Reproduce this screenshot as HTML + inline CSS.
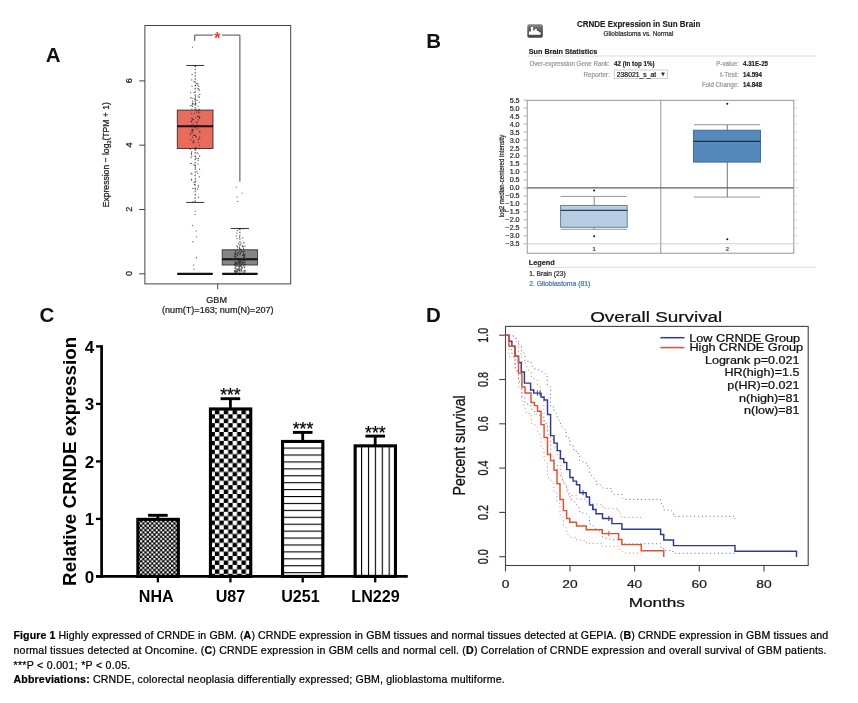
<!DOCTYPE html>
<html lang="en"><head><meta charset="utf-8"><title>Figure 1 Highly expressed of CRNDE in GBM</title>
<style>
html,body{margin:0;padding:0;background:#fff;}
body{width:858px;height:703px;position:relative;overflow:hidden;font-family:"Liberation Sans", sans-serif;will-change:transform;}
svg{position:absolute;left:0;top:0;display:block;}
svg text{font-family:"Liberation Sans", sans-serif;}
.pl{position:absolute;font-weight:bold;font-size:20.5px;line-height:1;color:#111;}
.cap{position:absolute;left:13.5px;white-space:nowrap;font-size:10.6px;line-height:1;color:#000;-webkit-text-stroke:0.22px #000;}
.cap b{font-weight:bold;}
</style></head><body>
<svg width="858" height="703" viewBox="0 0 858 703">
<g id="panelA">
<rect x="144.90" y="25.50" width="145.80" height="258.40" fill="none" stroke="#444" stroke-width="1"/>
<line x1="139.20" y1="273.80" x2="144.90" y2="273.80" stroke="#444" stroke-width="1"/>
<text transform="translate(131.80,273.50) rotate(-90)" font-size="9.2" text-anchor="middle" fill="#222" stroke="#222" stroke-width="0.24">0</text>
<line x1="139.20" y1="209.50" x2="144.90" y2="209.50" stroke="#444" stroke-width="1"/>
<text transform="translate(131.80,209.20) rotate(-90)" font-size="9.2" text-anchor="middle" fill="#222" stroke="#222" stroke-width="0.24">2</text>
<line x1="139.20" y1="145.20" x2="144.90" y2="145.20" stroke="#444" stroke-width="1"/>
<text transform="translate(131.80,144.90) rotate(-90)" font-size="9.2" text-anchor="middle" fill="#222" stroke="#222" stroke-width="0.24">4</text>
<line x1="139.20" y1="80.90" x2="144.90" y2="80.90" stroke="#444" stroke-width="1"/>
<text transform="translate(131.80,80.60) rotate(-90)" font-size="9.2" text-anchor="middle" fill="#222" stroke="#222" stroke-width="0.24">6</text>
<line x1="217.70" y1="283.90" x2="217.70" y2="289.20" stroke="#444" stroke-width="1"/>
<text transform="translate(109.20,154.70) rotate(-90) scale(0.925,1.000)" font-size="9.3" text-anchor="middle" fill="#222" stroke="#222" stroke-width="0.24">Expression &#8722; log<tspan font-size="6" dy="1.6">2</tspan><tspan dy="-1.6">(TPM + 1)</tspan></text>
<text transform="translate(216.60,302.80)" font-size="9.1" text-anchor="middle" fill="#222" stroke="#222" stroke-width="0.24">GBM</text>
<text transform="translate(217.80,313.20)" font-size="9.08" text-anchor="middle" fill="#222" stroke="#222" stroke-width="0.24">(num(T)=163; num(N)=207)</text>
<line x1="195.20" y1="65.47" x2="195.20" y2="110.16" stroke="#333" stroke-width="0.9" stroke-dasharray="1.6 1.6"/>
<line x1="195.20" y1="149.06" x2="195.20" y2="202.43" stroke="#333" stroke-width="0.9" stroke-dasharray="1.6 1.6"/>
<line x1="186.30" y1="65.47" x2="204.20" y2="65.47" stroke="#333" stroke-width="1"/>
<line x1="186.30" y1="202.43" x2="204.20" y2="202.43" stroke="#333" stroke-width="1"/>
<rect x="177.30" y="110.10" width="35.70" height="38.40" fill="#e86b5e" stroke="#3a2a28" stroke-width="0.9"/>
<line x1="177.30" y1="126.30" x2="213.00" y2="126.30" stroke="#111" stroke-width="1.9"/>
<line x1="177.20" y1="273.90" x2="212.80" y2="273.90" stroke="#111" stroke-width="2.2"/>
<line x1="239.90" y1="228.47" x2="239.90" y2="249.69" stroke="#333" stroke-width="0.9" stroke-dasharray="1.6 1.6"/>
<line x1="239.90" y1="264.80" x2="239.90" y2="273.80" stroke="#333" stroke-width="0.9" stroke-dasharray="1.6 1.6"/>
<line x1="230.70" y1="228.47" x2="249.00" y2="228.47" stroke="#3a3a3a" stroke-width="1"/>
<rect x="222.20" y="249.80" width="35.40" height="15.20" fill="#868686" stroke="#333" stroke-width="0.9"/>
<line x1="222.20" y1="259.20" x2="257.60" y2="259.20" stroke="#111" stroke-width="2.1"/>
<line x1="222.20" y1="273.90" x2="257.60" y2="273.90" stroke="#111" stroke-width="2.2"/>
<path d="M194.7,40.8V35.1H213.0M222.1,35.1H239.9V181.7" fill="none" stroke="#4a4a4a" stroke-width="1"/>
<text transform="translate(217.30,43.60)" font-size="17" text-anchor="middle" font-weight="bold" fill="#e8452c">*</text>
<path d="M196.6,136.9h.01M191.1,113.5h.01M191.0,157.5h.01M195.3,135.6h.01M191.1,97.5h.01M191.3,121.5h.01M191.6,180.0h.01M192.5,103.0h.01M195.9,180.8h.01M194.2,182.4h.01M198.6,119.8h.01M193.2,130.5h.01M193.4,119.7h.01M198.2,117.1h.01M196.5,112.1h.01M194.0,92.6h.01M191.0,139.6h.01M192.4,132.4h.01M193.4,142.8h.01M196.0,158.4h.01M198.0,153.8h.01M197.1,121.6h.01M195.4,127.6h.01M198.8,89.2h.01M199.8,132.4h.01M191.5,154.1h.01M191.9,173.9h.01M195.1,103.8h.01M197.7,85.1h.01M195.9,118.1h.01M197.1,110.3h.01M196.1,147.8h.01M198.5,158.7h.01M199.5,145.3h.01M191.0,173.6h.01M197.1,121.8h.01M198.3,187.2h.01M193.1,201.5h.01M190.6,163.3h.01M194.8,99.3h.01M191.0,121.6h.01M197.8,115.9h.01M194.2,113.3h.01M198.8,112.4h.01M195.7,100.0h.01M198.9,112.9h.01M193.1,103.4h.01M194.4,184.4h.01M199.6,169.2h.01M191.8,79.9h.01M192.6,119.2h.01M195.1,109.3h.01M190.4,149.3h.01M194.4,141.8h.01M199.5,156.0h.01M197.0,100.2h.01M196.9,171.3h.01M190.9,133.2h.01M198.8,86.2h.01M198.1,160.5h.01M191.4,153.2h.01M196.5,109.8h.01M192.4,118.6h.01M192.0,124.8h.01M190.4,134.5h.01M191.9,120.7h.01M190.6,105.8h.01M198.8,111.8h.01M192.8,142.2h.01M193.7,140.5h.01M198.5,139.4h.01M199.9,117.3h.01M191.2,163.5h.01M191.4,121.7h.01M198.4,142.3h.01M191.9,109.1h.01M195.5,66.4h.01M191.8,118.3h.01M195.5,136.0h.01M199.8,131.0h.01M192.9,98.3h.01M193.9,164.8h.01M195.5,103.0h.01M197.9,83.6h.01M198.2,139.5h.01M199.9,110.1h.01M198.3,95.9h.01M197.5,173.3h.01M193.8,123.8h.01M190.7,92.6h.01M192.9,104.8h.01M197.0,124.8h.01M199.4,97.1h.01M199.9,138.1h.01M192.5,101.2h.01M192.6,137.2h.01M196.4,122.3h.01M199.0,109.6h.01M196.7,110.3h.01M198.1,158.5h.01M199.1,90.4h.01M197.9,106.3h.01M192.1,129.1h.01M198.0,164.0h.01M199.7,156.3h.01M194.2,81.5h.01M197.4,189.4h.01M192.0,86.2h.01M199.1,116.9h.01M198.1,116.6h.01M199.8,94.4h.01M196.7,83.7h.01M191.7,151.8h.01M190.5,98.0h.01M195.5,85.6h.01M199.4,137.2h.01M198.3,185.7h.01M192.4,104.1h.01M192.7,129.4h.01M196.0,103.7h.01M191.7,131.0h.01M199.1,97.4h.01M196.0,149.6h.01M199.1,102.3h.01M195.2,189.1h.01M195.5,96.5h.01M194.6,135.0h.01M192.2,130.0h.01M192.1,74.4h.01M194.9,127.8h.01M193.5,135.2h.01M195.4,167.6h.01M191.4,179.4h.01M195.8,147.4h.01M197.8,128.9h.01M195.3,104.5h.01M199.2,176.9h.01M194.7,148.6h.01M195.3,156.7h.01M197.1,152.7h.01M195.0,165.2h.01M199.4,118.0h.01M199.4,148.7h.01M192.9,188.4h.01M198.5,197.2h.01M191.7,155.9h.01M191.1,105.3h.01M192.7,106.3h.01M197.9,88.4h.01M199.0,109.0h.01M192.5,47.1h.01M195.3,211.1h.01M195.0,214.3h.01M192.4,225.6h.01M196.1,231.0h.01M196.5,236.8h.01M192.8,241.7h.01M196.5,257.7h.01M193.7,265.1h.01M194.1,269.0h.01M236.2,236.1h.01M239.1,263.2h.01M236.6,271.9h.01M237.9,262.8h.01M240.5,262.0h.01M239.2,264.2h.01M241.3,249.5h.01M240.0,260.2h.01M243.1,228.8h.01M245.1,246.2h.01M234.8,253.2h.01M243.0,255.1h.01M239.0,262.5h.01M244.4,254.5h.01M236.0,257.2h.01M244.5,271.1h.01M235.4,265.2h.01M235.0,270.6h.01M235.2,267.0h.01M244.7,270.9h.01M235.3,268.0h.01M243.8,265.9h.01M239.4,237.0h.01M238.1,250.6h.01M237.3,254.9h.01M235.8,271.7h.01M235.6,271.4h.01M236.2,263.3h.01M237.8,253.0h.01M237.8,258.8h.01M239.9,260.9h.01M236.4,272.7h.01M237.2,263.1h.01M234.6,259.5h.01M236.5,263.4h.01M239.6,267.1h.01M243.4,255.7h.01M239.2,264.1h.01M238.7,258.5h.01M240.0,260.8h.01M238.2,269.4h.01M243.6,248.6h.01M238.9,266.7h.01M238.2,265.6h.01M235.2,254.9h.01M242.5,259.2h.01M235.3,261.9h.01M243.7,253.5h.01M237.5,247.8h.01M237.1,269.5h.01M236.1,265.6h.01M239.3,247.2h.01M245.1,264.5h.01M240.4,228.8h.01M237.8,260.4h.01M238.3,228.8h.01M239.6,248.3h.01M239.9,261.5h.01M234.5,256.7h.01M237.3,246.3h.01M234.9,250.1h.01M234.6,254.3h.01M240.8,264.9h.01M240.2,252.3h.01M242.3,261.5h.01M244.1,264.3h.01M245.2,270.8h.01M236.0,253.9h.01M234.9,264.7h.01M243.6,265.0h.01M242.5,246.8h.01M243.3,272.2h.01M239.9,251.0h.01M243.6,249.0h.01M240.8,253.1h.01M244.2,260.3h.01M236.9,270.1h.01M234.7,265.1h.01M235.6,253.0h.01M243.6,252.1h.01M241.3,266.4h.01M241.9,268.4h.01M243.2,262.7h.01M242.6,261.5h.01M241.7,267.4h.01M235.1,261.9h.01M235.2,262.4h.01M237.3,271.8h.01M242.5,262.8h.01M245.1,270.7h.01M239.7,270.8h.01M241.9,261.1h.01M241.5,259.6h.01M235.3,265.5h.01M242.6,255.4h.01M237.7,253.3h.01M235.1,263.5h.01M237.4,262.5h.01M241.8,271.3h.01M237.6,265.8h.01M239.5,269.1h.01M235.7,263.1h.01M245.2,254.5h.01M244.7,267.2h.01M243.4,246.7h.01M245.0,259.9h.01M236.7,271.7h.01M244.8,258.2h.01M236.0,257.2h.01M240.2,244.3h.01M243.4,254.7h.01M240.0,263.7h.01M236.9,245.6h.01M244.3,270.4h.01M234.4,264.6h.01M239.8,261.3h.01M235.9,272.5h.01M238.2,258.1h.01M234.4,272.0h.01M242.7,237.9h.01M244.6,258.0h.01M242.2,267.4h.01M238.5,252.5h.01M238.7,268.1h.01M238.4,243.6h.01M239.1,261.7h.01M235.5,262.3h.01M243.6,257.4h.01M237.1,268.6h.01M237.3,230.7h.01M238.5,270.3h.01M244.9,262.2h.01M241.3,243.1h.01M244.4,267.7h.01M242.3,245.7h.01M234.9,267.8h.01M242.7,263.2h.01M241.5,269.4h.01M244.6,262.5h.01M235.8,257.4h.01M237.7,271.9h.01M242.5,259.4h.01M241.6,251.2h.01M237.7,263.1h.01M236.2,271.4h.01M236.2,266.3h.01M239.9,253.9h.01M236.8,233.2h.01M239.3,228.8h.01M235.9,258.9h.01M238.2,259.5h.01M235.4,256.1h.01M240.7,260.9h.01M244.2,251.2h.01M239.0,261.6h.01M240.2,270.2h.01M235.1,270.4h.01M237.5,253.0h.01M239.9,254.7h.01M241.3,263.0h.01M237.4,255.4h.01M237.1,268.7h.01M244.9,272.2h.01M243.7,252.9h.01M234.8,259.6h.01M242.2,263.6h.01M240.9,249.5h.01M234.4,270.9h.01M243.5,260.1h.01M243.8,242.1h.01M235.6,251.5h.01M236.1,263.4h.01M244.8,263.8h.01M242.3,264.4h.01M239.4,270.3h.01M240.5,265.7h.01M237.0,238.7h.01M244.5,255.8h.01M235.8,268.6h.01M237.2,270.7h.01M235.6,270.4h.01M235.2,268.3h.01M238.7,266.4h.01M236.9,264.3h.01M237.7,263.2h.01M239.5,262.7h.01M244.1,242.8h.01M239.6,266.5h.01M245.0,260.6h.01M242.2,251.5h.01M239.9,262.6h.01M241.8,258.9h.01M241.7,270.7h.01M244.6,256.6h.01M238.1,261.1h.01M236.3,187.0h.01M242.0,193.1h.01M237.0,196.8h.01M237.7,201.6h.01" stroke="#222" stroke-opacity=".78" stroke-width="1.25" stroke-linecap="round" fill="none"/>
</g>
<g id="panelB">
<defs><linearGradient id="icg" x1="0" y1="0" x2="0" y2="1"><stop offset="0" stop-color="#8a8a8a"/><stop offset="0.45" stop-color="#5c5c5c"/><stop offset="1" stop-color="#444"/></linearGradient></defs>
<rect x="527.30" y="24.20" width="15.60" height="13.60" fill="url(#icg)" stroke="none" stroke-width="1" rx="1.8"/>
<path d="M528.9,34.8v-3.4h2.1v-4.3h2.1v3.3h1.8v-1.5h1.9v2h1.9v1.4h1.9v2.5z" fill="#fff"/>
<text transform="translate(638.60,27.40)" font-size="8.3" text-anchor="middle" font-weight="bold" fill="#222" stroke="#222" stroke-width="0.16" textLength="123.4" lengthAdjust="spacingAndGlyphs">CRNDE Expression in Sun Brain</text>
<text transform="translate(638.40,36.00)" font-size="6.3" text-anchor="middle" fill="#333" stroke="#333" stroke-width="0.24" textLength="69.8" lengthAdjust="spacingAndGlyphs">Glioblastoma vs. Normal</text>
<text transform="translate(528.70,53.60)" font-size="7.6" text-anchor="start" font-weight="bold" fill="#222" stroke="#222" stroke-width="0.16" textLength="68.6" lengthAdjust="spacingAndGlyphs">Sun Brain Statistics</text>
<line x1="528.00" y1="56.00" x2="816.00" y2="56.00" stroke="#dcdcdc" stroke-width="1"/>
<text transform="translate(609.70,66.20)" font-size="6.4" text-anchor="end" fill="#9a9a9a" stroke="#9a9a9a" stroke-width="0.24" textLength="80.3" lengthAdjust="spacingAndGlyphs">Over-expression Gene Rank:</text>
<text transform="translate(614.00,66.20)" font-size="6.4" text-anchor="start" font-weight="bold" fill="#222" stroke="#222" stroke-width="0.16" textLength="40.6" lengthAdjust="spacingAndGlyphs">42 (in top 1%)</text>
<text transform="translate(609.70,76.60)" font-size="6.4" text-anchor="end" fill="#9a9a9a" stroke="#9a9a9a" stroke-width="0.24" textLength="26.2" lengthAdjust="spacingAndGlyphs">Reporter:</text>
<rect x="614.20" y="70.00" width="53.30" height="8.60" fill="#fff" stroke="#c2c2c2" stroke-width="0.8"/>
<text transform="translate(616.80,76.80)" font-size="7.0" text-anchor="start" fill="#1a1a1a" stroke="#1a1a1a" stroke-width="0.24" textLength="39.3" lengthAdjust="spacingAndGlyphs">238021_s_at</text>
<text transform="translate(660.20,76.40)" font-size="5.6" text-anchor="start" fill="#222" stroke="#222" stroke-width="0.24">&#9660;</text>
<text transform="translate(738.80,66.20)" font-size="6.4" text-anchor="end" fill="#9a9a9a" stroke="#9a9a9a" stroke-width="0.24" textLength="22.5" lengthAdjust="spacingAndGlyphs">P-value:</text>
<text transform="translate(743.00,66.20)" font-size="6.4" text-anchor="start" font-weight="bold" fill="#222" stroke="#222" stroke-width="0.16" textLength="25" lengthAdjust="spacingAndGlyphs">4.31E-25</text>
<text transform="translate(738.80,76.60)" font-size="6.4" text-anchor="end" fill="#9a9a9a" stroke="#9a9a9a" stroke-width="0.24" textLength="18.8" lengthAdjust="spacingAndGlyphs">t-Test:</text>
<text transform="translate(743.00,76.60)" font-size="6.4" text-anchor="start" font-weight="bold" fill="#222" stroke="#222" stroke-width="0.16" textLength="19" lengthAdjust="spacingAndGlyphs">14.594</text>
<text transform="translate(738.80,87.10)" font-size="6.4" text-anchor="end" fill="#9a9a9a" stroke="#9a9a9a" stroke-width="0.24" textLength="36.9" lengthAdjust="spacingAndGlyphs">Fold Change:</text>
<text transform="translate(743.00,87.10)" font-size="6.4" text-anchor="start" font-weight="bold" fill="#222" stroke="#222" stroke-width="0.16" textLength="19" lengthAdjust="spacingAndGlyphs">14.848</text>
<rect x="527.20" y="100.30" width="266.60" height="152.90" fill="none" stroke="#8a8a8a" stroke-width="0.9"/>
<line x1="660.80" y1="100.30" x2="660.80" y2="253.20" stroke="#8a8a8a" stroke-width="0.9"/>
<line x1="527.20" y1="243.76" x2="793.80" y2="243.76" stroke="#c4c4c4" stroke-width="0.8"/>
<line x1="527.20" y1="187.90" x2="793.80" y2="187.90" stroke="#606060" stroke-width="1.15"/>
<line x1="523.40" y1="100.12" x2="527.20" y2="100.12" stroke="#aaa" stroke-width="0.8"/>
<line x1="793.80" y1="100.12" x2="798.40" y2="100.12" stroke="#d5d5d5" stroke-width="0.8"/>
<text transform="translate(519.60,102.62) scale(1.100,1.000)" font-size="6.5" text-anchor="end" fill="#333" stroke="#333" stroke-width="0.24">5.5</text>
<line x1="523.40" y1="108.10" x2="527.20" y2="108.10" stroke="#aaa" stroke-width="0.8"/>
<line x1="793.80" y1="108.10" x2="798.40" y2="108.10" stroke="#d5d5d5" stroke-width="0.8"/>
<text transform="translate(519.60,110.60) scale(1.100,1.000)" font-size="6.5" text-anchor="end" fill="#333" stroke="#333" stroke-width="0.24">5.0</text>
<line x1="523.40" y1="116.08" x2="527.20" y2="116.08" stroke="#aaa" stroke-width="0.8"/>
<line x1="793.80" y1="116.08" x2="798.40" y2="116.08" stroke="#d5d5d5" stroke-width="0.8"/>
<text transform="translate(519.60,118.58) scale(1.100,1.000)" font-size="6.5" text-anchor="end" fill="#333" stroke="#333" stroke-width="0.24">4.5</text>
<line x1="523.40" y1="124.06" x2="527.20" y2="124.06" stroke="#aaa" stroke-width="0.8"/>
<line x1="793.80" y1="124.06" x2="798.40" y2="124.06" stroke="#d5d5d5" stroke-width="0.8"/>
<text transform="translate(519.60,126.56) scale(1.100,1.000)" font-size="6.5" text-anchor="end" fill="#333" stroke="#333" stroke-width="0.24">4.0</text>
<line x1="523.40" y1="132.04" x2="527.20" y2="132.04" stroke="#aaa" stroke-width="0.8"/>
<line x1="793.80" y1="132.04" x2="798.40" y2="132.04" stroke="#d5d5d5" stroke-width="0.8"/>
<text transform="translate(519.60,134.54) scale(1.100,1.000)" font-size="6.5" text-anchor="end" fill="#333" stroke="#333" stroke-width="0.24">3.5</text>
<line x1="523.40" y1="140.02" x2="527.20" y2="140.02" stroke="#aaa" stroke-width="0.8"/>
<line x1="793.80" y1="140.02" x2="798.40" y2="140.02" stroke="#d5d5d5" stroke-width="0.8"/>
<text transform="translate(519.60,142.52) scale(1.100,1.000)" font-size="6.5" text-anchor="end" fill="#333" stroke="#333" stroke-width="0.24">3.0</text>
<line x1="523.40" y1="148.00" x2="527.20" y2="148.00" stroke="#aaa" stroke-width="0.8"/>
<line x1="793.80" y1="148.00" x2="798.40" y2="148.00" stroke="#d5d5d5" stroke-width="0.8"/>
<text transform="translate(519.60,150.50) scale(1.100,1.000)" font-size="6.5" text-anchor="end" fill="#333" stroke="#333" stroke-width="0.24">2.5</text>
<line x1="523.40" y1="155.98" x2="527.20" y2="155.98" stroke="#aaa" stroke-width="0.8"/>
<line x1="793.80" y1="155.98" x2="798.40" y2="155.98" stroke="#d5d5d5" stroke-width="0.8"/>
<text transform="translate(519.60,158.48) scale(1.100,1.000)" font-size="6.5" text-anchor="end" fill="#333" stroke="#333" stroke-width="0.24">2.0</text>
<line x1="523.40" y1="163.96" x2="527.20" y2="163.96" stroke="#aaa" stroke-width="0.8"/>
<line x1="793.80" y1="163.96" x2="798.40" y2="163.96" stroke="#d5d5d5" stroke-width="0.8"/>
<text transform="translate(519.60,166.46) scale(1.100,1.000)" font-size="6.5" text-anchor="end" fill="#333" stroke="#333" stroke-width="0.24">1.5</text>
<line x1="523.40" y1="171.94" x2="527.20" y2="171.94" stroke="#aaa" stroke-width="0.8"/>
<line x1="793.80" y1="171.94" x2="798.40" y2="171.94" stroke="#d5d5d5" stroke-width="0.8"/>
<text transform="translate(519.60,174.44) scale(1.100,1.000)" font-size="6.5" text-anchor="end" fill="#333" stroke="#333" stroke-width="0.24">1.0</text>
<line x1="523.40" y1="179.92" x2="527.20" y2="179.92" stroke="#aaa" stroke-width="0.8"/>
<line x1="793.80" y1="179.92" x2="798.40" y2="179.92" stroke="#d5d5d5" stroke-width="0.8"/>
<text transform="translate(519.60,182.42) scale(1.100,1.000)" font-size="6.5" text-anchor="end" fill="#333" stroke="#333" stroke-width="0.24">0.5</text>
<line x1="523.40" y1="187.90" x2="527.20" y2="187.90" stroke="#aaa" stroke-width="0.8"/>
<line x1="793.80" y1="187.90" x2="798.40" y2="187.90" stroke="#d5d5d5" stroke-width="0.8"/>
<text transform="translate(519.60,190.40) scale(1.100,1.000)" font-size="6.5" text-anchor="end" fill="#333" stroke="#333" stroke-width="0.24">0.0</text>
<line x1="523.40" y1="195.88" x2="527.20" y2="195.88" stroke="#aaa" stroke-width="0.8"/>
<line x1="793.80" y1="195.88" x2="798.40" y2="195.88" stroke="#d5d5d5" stroke-width="0.8"/>
<text transform="translate(519.60,198.38) scale(1.100,1.000)" font-size="6.5" text-anchor="end" fill="#333" stroke="#333" stroke-width="0.24">&#8722;0.5</text>
<line x1="523.40" y1="203.86" x2="527.20" y2="203.86" stroke="#aaa" stroke-width="0.8"/>
<line x1="793.80" y1="203.86" x2="798.40" y2="203.86" stroke="#d5d5d5" stroke-width="0.8"/>
<text transform="translate(519.60,206.36) scale(1.100,1.000)" font-size="6.5" text-anchor="end" fill="#333" stroke="#333" stroke-width="0.24">&#8722;1.0</text>
<line x1="523.40" y1="211.84" x2="527.20" y2="211.84" stroke="#aaa" stroke-width="0.8"/>
<line x1="793.80" y1="211.84" x2="798.40" y2="211.84" stroke="#d5d5d5" stroke-width="0.8"/>
<text transform="translate(519.60,214.34) scale(1.100,1.000)" font-size="6.5" text-anchor="end" fill="#333" stroke="#333" stroke-width="0.24">&#8722;1.5</text>
<line x1="523.40" y1="219.82" x2="527.20" y2="219.82" stroke="#aaa" stroke-width="0.8"/>
<line x1="793.80" y1="219.82" x2="798.40" y2="219.82" stroke="#d5d5d5" stroke-width="0.8"/>
<text transform="translate(519.60,222.32) scale(1.100,1.000)" font-size="6.5" text-anchor="end" fill="#333" stroke="#333" stroke-width="0.24">&#8722;2.0</text>
<line x1="523.40" y1="227.80" x2="527.20" y2="227.80" stroke="#aaa" stroke-width="0.8"/>
<line x1="793.80" y1="227.80" x2="798.40" y2="227.80" stroke="#d5d5d5" stroke-width="0.8"/>
<text transform="translate(519.60,230.30) scale(1.100,1.000)" font-size="6.5" text-anchor="end" fill="#333" stroke="#333" stroke-width="0.24">&#8722;2.5</text>
<line x1="523.40" y1="235.78" x2="527.20" y2="235.78" stroke="#aaa" stroke-width="0.8"/>
<line x1="793.80" y1="235.78" x2="798.40" y2="235.78" stroke="#d5d5d5" stroke-width="0.8"/>
<text transform="translate(519.60,238.28) scale(1.100,1.000)" font-size="6.5" text-anchor="end" fill="#333" stroke="#333" stroke-width="0.24">&#8722;3.0</text>
<line x1="523.40" y1="243.76" x2="527.20" y2="243.76" stroke="#aaa" stroke-width="0.8"/>
<line x1="793.80" y1="243.76" x2="798.40" y2="243.76" stroke="#d5d5d5" stroke-width="0.8"/>
<text transform="translate(519.60,246.26) scale(1.100,1.000)" font-size="6.5" text-anchor="end" fill="#333" stroke="#333" stroke-width="0.24">&#8722;3.5</text>
<text transform="translate(503.80,176.00) rotate(-90)" font-size="6.9" text-anchor="middle" fill="#2a2a2a" stroke="#2a2a2a" stroke-width="0.24" textLength="82.6" lengthAdjust="spacingAndGlyphs">log2 median-centered intensity</text>
<line x1="594.20" y1="196.40" x2="594.20" y2="205.40" stroke="#777" stroke-width="0.9"/>
<line x1="594.20" y1="227.30" x2="594.20" y2="229.30" stroke="#777" stroke-width="0.9"/>
<line x1="560.60" y1="196.40" x2="626.90" y2="196.40" stroke="#8a8a8a" stroke-width="0.9"/>
<line x1="560.60" y1="229.30" x2="626.90" y2="229.30" stroke="#8a8a8a" stroke-width="0.9"/>
<rect x="560.60" y="205.40" width="66.60" height="21.90" fill="#b8cce4" stroke="#5d7696" stroke-width="0.9"/>
<line x1="560.60" y1="210.30" x2="627.20" y2="210.30" stroke="#2f3f55" stroke-width="1.2"/>
<circle cx="594.2" cy="190.6" r="1" fill="#111"/><circle cx="594.2" cy="236.3" r="1" fill="#111"/>
<line x1="727.30" y1="124.70" x2="727.30" y2="130.20" stroke="#666" stroke-width="0.9"/>
<line x1="727.30" y1="162.10" x2="727.30" y2="197.10" stroke="#666" stroke-width="0.9"/>
<line x1="693.90" y1="124.70" x2="760.20" y2="124.70" stroke="#8a8a8a" stroke-width="0.9"/>
<line x1="693.90" y1="197.10" x2="760.20" y2="197.10" stroke="#8a8a8a" stroke-width="0.9"/>
<rect x="693.40" y="130.20" width="67.10" height="31.90" fill="#5588bb" stroke="#3c6491" stroke-width="0.9"/>
<line x1="693.40" y1="141.40" x2="760.50" y2="141.40" stroke="#1f2f45" stroke-width="1.2"/>
<circle cx="727.3" cy="103.8" r="1" fill="#111"/><circle cx="727.3" cy="239.3" r="1" fill="#111"/>
<text transform="translate(594.20,251.30)" font-size="5.8" text-anchor="middle" fill="#444" stroke="#444" stroke-width="0.24">1</text>
<text transform="translate(727.30,251.30)" font-size="5.8" text-anchor="middle" fill="#444" stroke="#444" stroke-width="0.24">2</text>
<text transform="translate(528.70,265.40)" font-size="7.6" text-anchor="start" font-weight="bold" fill="#222" stroke="#222" stroke-width="0.16" textLength="26" lengthAdjust="spacingAndGlyphs">Legend</text>
<line x1="528.00" y1="267.30" x2="816.00" y2="267.30" stroke="#dcdcdc" stroke-width="1"/>
<text transform="translate(529.20,276.20)" font-size="6.4" text-anchor="start" fill="#333" stroke="#333" stroke-width="0.24" textLength="36.4" lengthAdjust="spacingAndGlyphs">1. Brain (23)</text>
<text transform="translate(529.20,285.70)" font-size="6.4" text-anchor="start" fill="#4a7ab3" stroke="#4a7ab3" stroke-width="0.24" textLength="61" lengthAdjust="spacingAndGlyphs">2. Glioblastoma (81)</text>
</g>
<g id="panelC">
<defs><pattern id="chkS" patternUnits="userSpaceOnUse" x="140.0" y="522.4" width="4.44" height="4.44"><rect width="4.44" height="4.44" fill="#000"/><rect x="0.08" y="0.08" width="2.06" height="2.06" fill="#fff"/><rect x="2.30" y="2.30" width="2.06" height="2.06" fill="#fff"/></pattern><pattern id="chkL" patternUnits="userSpaceOnUse" x="206.04" y="405.44" width="8.86" height="8.86"><rect width="8.86" height="8.86" fill="#000"/><rect width="4.43" height="4.43" fill="#fff"/><rect x="4.43" y="4.43" width="4.43" height="4.43" fill="#fff"/></pattern><pattern id="hln" patternUnits="userSpaceOnUse" x="0" y="447.55" width="10" height="6.92"><rect width="10" height="6.92" fill="#fff"/><rect width="10" height="1.1" fill="#000"/></pattern><pattern id="vln" patternUnits="userSpaceOnUse" x="361.05" y="0" width="6.9" height="10"><rect width="6.9" height="10" fill="#fff"/><rect width="1.1" height="10" fill="#000"/></pattern></defs>
<line x1="157.90" y1="515.30" x2="157.90" y2="518.80" stroke="#000" stroke-width="2.8"/>
<line x1="148.10" y1="515.30" x2="167.70" y2="515.30" stroke="#000" stroke-width="2.9"/>
<rect x="137.85" y="519.35" width="40.50" height="57.05" fill="url(#chkS)" stroke="#000" stroke-width="3.1"/>
<line x1="157.90" y1="576.40" x2="157.90" y2="582.40" stroke="#000" stroke-width="2.3"/>
<text transform="translate(156.30,601.60)" font-size="16.1" text-anchor="middle" font-weight="bold" fill="#000">NHA</text>
<line x1="230.40" y1="398.70" x2="230.40" y2="408.40" stroke="#000" stroke-width="2.8"/>
<line x1="220.60" y1="398.70" x2="240.20" y2="398.70" stroke="#000" stroke-width="2.9"/>
<rect x="210.45" y="408.95" width="40.30" height="167.45" fill="url(#chkL)" stroke="#000" stroke-width="3.1"/>
<line x1="230.40" y1="576.40" x2="230.40" y2="582.40" stroke="#000" stroke-width="2.3"/>
<text transform="translate(230.40,601.60)" font-size="16.1" text-anchor="middle" font-weight="bold" fill="#000">U87</text>
<line x1="302.70" y1="432.40" x2="302.70" y2="440.90" stroke="#000" stroke-width="2.8"/>
<line x1="292.90" y1="432.40" x2="312.50" y2="432.40" stroke="#000" stroke-width="2.9"/>
<rect x="282.55" y="441.45" width="40.30" height="134.95" fill="url(#hln)" stroke="#000" stroke-width="3.1"/>
<line x1="302.70" y1="576.40" x2="302.70" y2="582.40" stroke="#000" stroke-width="2.3"/>
<text transform="translate(300.40,601.60)" font-size="16.1" text-anchor="middle" font-weight="bold" fill="#000">U251</text>
<line x1="375.20" y1="436.10" x2="375.20" y2="445.30" stroke="#000" stroke-width="2.8"/>
<line x1="365.40" y1="436.10" x2="385.00" y2="436.10" stroke="#000" stroke-width="2.9"/>
<rect x="355.15" y="445.85" width="40.30" height="130.55" fill="url(#vln)" stroke="#000" stroke-width="3.1"/>
<line x1="375.20" y1="576.40" x2="375.20" y2="582.40" stroke="#000" stroke-width="2.3"/>
<text transform="translate(375.50,601.60)" font-size="16.1" text-anchor="middle" font-weight="bold" fill="#000">LN229</text>
<text transform="translate(230.40,400.60)" font-size="17.6" text-anchor="middle" fill="#000" stroke="#000" stroke-width="0.24">***</text>
<text transform="translate(303.00,434.80)" font-size="17.6" text-anchor="middle" fill="#000" stroke="#000" stroke-width="0.24">***</text>
<text transform="translate(375.30,438.70)" font-size="17.6" text-anchor="middle" fill="#000" stroke="#000" stroke-width="0.24">***</text>
<line x1="101.60" y1="345.20" x2="101.60" y2="577.70" stroke="#000" stroke-width="2.7"/>
<line x1="96.00" y1="576.40" x2="407.80" y2="576.40" stroke="#000" stroke-width="2.7"/>
<line x1="96.00" y1="576.40" x2="101.60" y2="576.40" stroke="#000" stroke-width="2.3"/>
<text transform="translate(94.30,582.70)" font-size="17.0" text-anchor="end" font-weight="bold" fill="#000">0</text>
<line x1="96.00" y1="518.90" x2="101.60" y2="518.90" stroke="#000" stroke-width="2.3"/>
<text transform="translate(94.30,525.20)" font-size="17.0" text-anchor="end" font-weight="bold" fill="#000">1</text>
<line x1="96.00" y1="461.40" x2="101.60" y2="461.40" stroke="#000" stroke-width="2.3"/>
<text transform="translate(94.30,467.70)" font-size="17.0" text-anchor="end" font-weight="bold" fill="#000">2</text>
<line x1="96.00" y1="403.90" x2="101.60" y2="403.90" stroke="#000" stroke-width="2.3"/>
<text transform="translate(94.30,410.20)" font-size="17.0" text-anchor="end" font-weight="bold" fill="#000">3</text>
<line x1="96.00" y1="346.40" x2="101.60" y2="346.40" stroke="#000" stroke-width="2.3"/>
<text transform="translate(94.30,352.70)" font-size="17.0" text-anchor="end" font-weight="bold" fill="#000">4</text>
<text transform="translate(75.80,461.30) rotate(-90)" font-size="18.85" text-anchor="middle" font-weight="bold" fill="#000">Relative CRNDE expression</text>
</g>
<g id="panelD">
<rect x="505.50" y="326.40" width="302.70" height="239.10" fill="none" stroke="#444" stroke-width="1.1"/>
<line x1="499.20" y1="335.20" x2="505.50" y2="335.20" stroke="#444" stroke-width="1.1"/>
<text transform="translate(487.60,335.20) rotate(-90) scale(1.000,1.280)" font-size="10.8" text-anchor="middle" fill="#222" stroke="#222" stroke-width="0.24">1.0</text>
<line x1="499.20" y1="379.50" x2="505.50" y2="379.50" stroke="#444" stroke-width="1.1"/>
<text transform="translate(487.60,379.50) rotate(-90) scale(1.000,1.280)" font-size="10.8" text-anchor="middle" fill="#222" stroke="#222" stroke-width="0.24">0.8</text>
<line x1="499.20" y1="423.80" x2="505.50" y2="423.80" stroke="#444" stroke-width="1.1"/>
<text transform="translate(487.60,423.80) rotate(-90) scale(1.000,1.280)" font-size="10.8" text-anchor="middle" fill="#222" stroke="#222" stroke-width="0.24">0.6</text>
<line x1="499.20" y1="468.10" x2="505.50" y2="468.10" stroke="#444" stroke-width="1.1"/>
<text transform="translate(487.60,468.10) rotate(-90) scale(1.000,1.280)" font-size="10.8" text-anchor="middle" fill="#222" stroke="#222" stroke-width="0.24">0.4</text>
<line x1="499.20" y1="512.40" x2="505.50" y2="512.40" stroke="#444" stroke-width="1.1"/>
<text transform="translate(487.60,512.40) rotate(-90) scale(1.000,1.280)" font-size="10.8" text-anchor="middle" fill="#222" stroke="#222" stroke-width="0.24">0.2</text>
<line x1="499.20" y1="556.70" x2="505.50" y2="556.70" stroke="#444" stroke-width="1.1"/>
<text transform="translate(487.60,556.70) rotate(-90) scale(1.000,1.280)" font-size="10.8" text-anchor="middle" fill="#222" stroke="#222" stroke-width="0.24">0.0</text>
<line x1="505.50" y1="565.50" x2="505.50" y2="571.40" stroke="#444" stroke-width="1.1"/>
<text transform="translate(505.50,588.20) scale(1.280,1.000)" font-size="10.8" text-anchor="middle" fill="#222" stroke="#222" stroke-width="0.24">0</text>
<line x1="570.00" y1="565.50" x2="570.00" y2="571.40" stroke="#444" stroke-width="1.1"/>
<text transform="translate(570.00,588.20) scale(1.280,1.000)" font-size="10.8" text-anchor="middle" fill="#222" stroke="#222" stroke-width="0.24">20</text>
<line x1="634.60" y1="565.50" x2="634.60" y2="571.40" stroke="#444" stroke-width="1.1"/>
<text transform="translate(634.60,588.20) scale(1.280,1.000)" font-size="10.8" text-anchor="middle" fill="#222" stroke="#222" stroke-width="0.24">40</text>
<line x1="699.30" y1="565.50" x2="699.30" y2="571.40" stroke="#444" stroke-width="1.1"/>
<text transform="translate(699.30,588.20) scale(1.280,1.000)" font-size="10.8" text-anchor="middle" fill="#222" stroke="#222" stroke-width="0.24">60</text>
<line x1="764.00" y1="565.50" x2="764.00" y2="571.40" stroke="#444" stroke-width="1.1"/>
<text transform="translate(764.00,588.20) scale(1.280,1.000)" font-size="10.8" text-anchor="middle" fill="#222" stroke="#222" stroke-width="0.24">80</text>
<text transform="translate(656.80,607.00) scale(1.300,1.000)" font-size="13.2" text-anchor="middle" fill="#111" stroke="#111" stroke-width="0.24">Months</text>
<text transform="translate(656.20,322.00) scale(1.267,1.000)" font-size="14.9" text-anchor="middle" fill="#111" stroke="#111" stroke-width="0.24">Overall Survival</text>
<text transform="translate(464.60,445.40) rotate(-90) scale(1.000,1.220)" font-size="14.1" text-anchor="middle" fill="#111" stroke="#111" stroke-width="0.24">Percent survival</text>
<path d="M509,335.2L515,336.5L518.5,341.25L518.5,345L521.5,345.6L521.5,351.9L525,353.75L525,361.25L531.25,361.9L531.25,365L534.4,368.75L537.5,369.4L543.75,372.5L547.25,375L547.25,385L550.6,386.9L550.6,406.9L554,406.9L554,410.6L557.25,414.4L557.25,418.1L560.4,421.9L560.4,425.6L563.1,427.5L566.25,430.6L566.25,437.5L569.75,438.1L569.75,445L573.1,445.6L573.1,449.4L576.25,450L576.25,453.1L579.6,453.75L579.6,460.6L582.75,461.9L586.25,462.5L586.25,465.6L589.4,466.25L589.4,473.1L592.5,476.9L596.25,480.6L596.25,484.4L600,484.4L603.1,488.1L611.9,488.75L611.9,491.9L613.75,494.4L621.9,494.4L621.9,497.5L623.75,499.4L660.6,499.4L660.6,502.5L663.75,506.9L663.75,510L670.6,510L673.5,512.5L673.5,516.3L735,516.3L735,519" fill="none" stroke="#5a63b0" stroke-width="1.0" stroke-opacity="0.88" stroke-dasharray="1.15 2.75"/>
<path d="M509,346L512,350L512,355L515,357L515,367L518.5,372L518.5,380L521.9,385L521.9,397L525,398L525,403L531,405.6L531,408.75L534.4,410.6L534.4,413.75L537.5,414.4L544.1,418L544.1,422.5L547.5,425L547.5,433.75L550.6,437.5L550.6,454L554,457.5L554,463L557.25,465L557.25,472L560.4,475L563.1,481.25L566.25,485.6L570,495.6L570,499.4L573.1,500L576.5,504.4L579.75,508.75L579.75,512.5L586.25,513.75L589.5,516.9L589.5,523.75L592.75,525L596,529L602.5,533L602.5,537L611.9,539.75L621.9,539.75L621.9,543.75L660.6,543.75L660.6,547L663.75,547.5L663.75,550.6L672.5,550.6L673.5,553.3L735,553.3" fill="none" stroke="#5a63b0" stroke-width="1.0" stroke-opacity="0.88" stroke-dasharray="1.15 2.75"/>
<path d="M512.5,335.25L515,337.5L515,341.25L518.5,341.9L518.5,351.9L521.9,355L521.9,361.25L525,362.5L528.1,370L531.25,371.9L531.25,377.5L534.4,378.75L537.5,380.6L537.5,385L540.6,386.9L540.6,392.5L543.75,400L544.1,421.9L547.5,423.1L547.5,431.25L550.6,432.5L554,442L557.25,455L560.4,462.5L560.4,470L563.4,481.25L566.6,485.6L566.6,491.9L569.75,495.6L576.5,495.6L576.5,498.75L586.25,499.4L586.25,502.5L592.75,503.75L602.5,504.4L602.5,508.1L618.5,508.75L618.5,512.5L621.9,514.4L621.9,517.4L641.25,517.4L641.25,519" fill="none" stroke="#ee7a52" stroke-width="1.0" stroke-opacity="0.88" stroke-dasharray="1.15 2.75"/>
<path d="M509,348.75L509,356.25L515,358L515,368L518.5,375L518.5,386.25L521.9,390L521.9,400L525,407.5L526.25,413.1L531,413.75L531,423.1L534.4,423.75L537.5,427.5L537.5,431.25L541,436.25L541,445L544.1,449.4L544.1,460L547.5,463.75L547.5,477.5L550.6,478.75L553.75,483.75L553.75,491.9L556.9,493.1L556.9,501.25L560,503.75L560,515L563.4,517.5L563.4,525L566.6,528.75L566.6,533.1L569.75,536.9L576.5,537.5L576.5,540L586.25,540.6L586.25,543.1L602.25,543.75L602.25,546.25L618.5,546.25L618.5,548.75L621.9,551.25L623.75,553.1L641.25,553.1" fill="none" stroke="#ee7a52" stroke-width="1.0" stroke-opacity="0.88" stroke-dasharray="1.15 2.75"/>
<path d="M505.5,335.2H509V341.3H511.9V346.3H515V356.3H518.5V362.5H521.25V371.9H524.4V383.1H530.6V390H533.75V393.1H541V396.9H544.1V400H547.5V414.4H550.6V435.6H554V443.1H557.25V450.6H560.4V458.75H563.75V462.5H566.75V469.6H569.9V477.4H573.1V481.1H576.5V484.75H579.75V492.75H586.25V496.9H589.5V505H592.75V509.4H596V513.75H602.5V518.5H611.9V523.6H621.9V529.2H660.6V534.4H663.75V540H673.5V545.6H735V551.25H796.5V556.9" fill="none" stroke="#2f3a96" stroke-width="1.45" stroke-opacity="1"/>
<path d="M505.5,335.2H509V346.3H515V356.3H518.5V373.1H521.9V386.9H525V392.9H531V402.5H534.4V405.6H537.5V411.25H541V424.6H544.1V437.5H547.5V454.4H550.6V460.6H554V470.2H557V483.75H560V499.4H563.4V510.6H566.6V518.5H569.75V522.25H576.5V526H586.25V529.75H602.25V533.6H618.6V539.4H621.9V544.6H641.25V550.8H663.75V556.9" fill="none" stroke="#e4502e" stroke-width="1.45" stroke-opacity="1"/>
<line x1="537.40" y1="390.50" x2="537.40" y2="395.70" stroke="#2f3a96" stroke-width="1.0"/>
<line x1="540.00" y1="390.50" x2="540.00" y2="395.70" stroke="#2f3a96" stroke-width="1.0"/>
<line x1="583.00" y1="490.15" x2="583.00" y2="495.35" stroke="#2f3a96" stroke-width="1.0"/>
<line x1="608.80" y1="515.90" x2="608.80" y2="521.10" stroke="#2f3a96" stroke-width="1.0"/>
<line x1="592.90" y1="504.40" x2="592.90" y2="509.60" stroke="#2f3a96" stroke-width="1.0"/>
<line x1="608.80" y1="531.00" x2="608.80" y2="536.20" stroke="#e4502e" stroke-width="1.0"/>
<line x1="660.40" y1="337.70" x2="684.40" y2="337.70" stroke="#2f3a96" stroke-width="1.5"/>
<line x1="660.40" y1="347.60" x2="684.40" y2="347.60" stroke="#e4502e" stroke-width="1.5"/>
<text transform="translate(689.20,341.70) scale(1.225,1.000)" font-size="10.4" text-anchor="start" fill="#111" stroke="#111" stroke-width="0.24">Low CRNDE Group</text>
<text transform="translate(689.40,351.20) scale(1.225,1.000)" font-size="10.4" text-anchor="start" fill="#111" stroke="#111" stroke-width="0.24">High CRNDE Group</text>
<text transform="translate(799.40,364.40) scale(1.206,1.000)" font-size="10.4" text-anchor="end" fill="#111" stroke="#111" stroke-width="0.24">Logrank p=0.021</text>
<text transform="translate(799.40,376.20) scale(1.206,1.000)" font-size="10.4" text-anchor="end" fill="#111" stroke="#111" stroke-width="0.24">HR(high)=1.5</text>
<text transform="translate(799.40,389.30) scale(1.206,1.000)" font-size="10.4" text-anchor="end" fill="#111" stroke="#111" stroke-width="0.24">p(HR)=0.021</text>
<text transform="translate(799.40,401.50) scale(1.206,1.000)" font-size="10.4" text-anchor="end" fill="#111" stroke="#111" stroke-width="0.24">n(high)=81</text>
<text transform="translate(799.40,414.40) scale(1.206,1.000)" font-size="10.4" text-anchor="end" fill="#111" stroke="#111" stroke-width="0.24">n(low)=81</text>
</g>
</svg>
<div class="pl" style="left:45.8px;top:45.4px;">A</div>
<div class="pl" style="left:426.2px;top:30.6px;">B</div>
<div class="pl" style="left:39.6px;top:304.8px;">C</div>
<div class="pl" style="left:425.9px;top:304.6px;">D</div>
<div class="cap" id="c1" style="top:629.7px;letter-spacing:0.105px;"><b>Figure 1</b> Highly expressed of CRNDE in GBM. (<b>A</b>) CRNDE expression in GBM tissues and normal tissues detected at GEPIA. (<b>B</b>) CRNDE expression in GBM tissues and</div>
<div class="cap" id="c2" style="top:644.6px;letter-spacing:0.176px;">normal tissues detected at Oncomine. (<b>C</b>) CRNDE expression in GBM cells and normal cell. (<b>D</b>) Correlation of CRNDE expression and overall survival of GBM patients.</div>
<div class="cap" id="c3" style="top:659.5px;letter-spacing:0.28px;">***P &lt; 0.001; *P &lt; 0.05.</div>
<div class="cap" id="c4" style="top:674.3px;letter-spacing:0.155px;"><b>Abbreviations:</b> CRNDE, colorectal neoplasia differentially expressed; GBM, glioblastoma multiforme.</div>

</body></html>
